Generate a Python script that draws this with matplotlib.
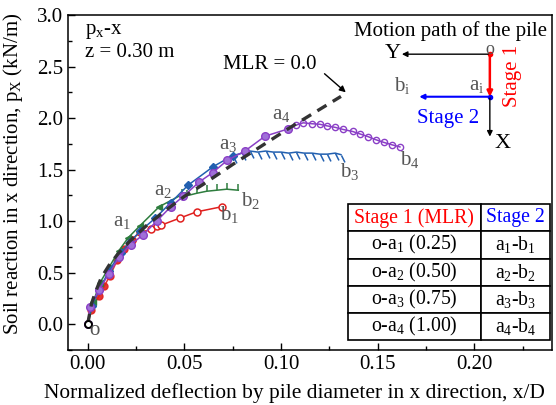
import matplotlib
matplotlib.use("Agg")
import matplotlib.pyplot as plt
from matplotlib.path import Path
from matplotlib.ticker import MultipleLocator

plt.rcParams["font.family"] = ["Liberation Serif", "DejaVu Serif"]
plt.rcParams["mathtext.fontset"] = "custom"
plt.rcParams["mathtext.rm"] = "Liberation Serif"
plt.rcParams["mathtext.it"] = "Liberation Serif:italic"

# MLR = 0.0 reference curve
mlr0_x = [0.0, 0.002, 0.004, 0.007, 0.011, 0.016, 0.022, 0.030, 0.040, 0.050,
          0.060, 0.075, 0.090, 0.104, 0.117, 0.131]
mlr0_y = [0.0, 0.20, 0.31, 0.45, 0.57, 0.69, 0.81, 0.95, 1.10, 1.24,
          1.36, 1.55, 1.73, 1.90, 2.05, 2.21]

# stage 1 (o -> a_i) and stage 2 (a_i -> b_i), four MLR cases
red_s1_x = [0.0, 0.0016, 0.0058, 0.0086, 0.0115, 0.0153, 0.0186, 0.0227]
red_s1_y = [0.0, 0.14, 0.27, 0.37, 0.47, 0.62, 0.73, 0.82]
red_s2_x = [0.0227, 0.027, 0.0327, 0.0357, 0.0379, 0.0477, 0.0563, 0.0694]
red_s2_y = [0.82, 0.89, 0.92, 0.955, 0.96, 1.03, 1.09, 1.14]

green_s1_x = [0.0, 0.003, 0.0063, 0.011, 0.016, 0.021, 0.027, 0.037, 0.0486]
green_s1_y = [0.0, 0.22, 0.40, 0.55, 0.71, 0.84, 0.955, 1.14, 1.256]
green_s2_x = [0.0486, 0.0512, 0.0563, 0.0615, 0.0667, 0.0719, 0.0779]
green_s2_y = [1.256, 1.246, 1.27, 1.29, 1.30, 1.31, 1.30]

blue_s1_x = [0.0, 0.002, 0.006, 0.011, 0.017, 0.022, 0.027, 0.035, 0.043,
             0.052, 0.065, 0.075]
blue_s1_y = [0.0, 0.18, 0.33, 0.52, 0.69, 0.80, 0.90, 1.03, 1.18,
             1.35, 1.53, 1.636]
blue_s2_x = [0.075, 0.080, 0.084, 0.088, 0.092, 0.096, 0.100, 0.104, 0.108,
             0.112, 0.116, 0.120, 0.124, 0.128, 0.131]
blue_s2_y = [1.636, 1.66, 1.68, 1.67, 1.68, 1.67, 1.67, 1.66, 1.67,
             1.66, 1.66, 1.65, 1.65, 1.66, 1.645]

purple_s1_x = [0.0, 0.0012, 0.0058, 0.011, 0.0162, 0.0222, 0.0288, 0.0357,
               0.043, 0.0494, 0.0577, 0.0646, 0.0722, 0.0813, 0.0917, 0.1037]
purple_s1_y = [0.0, 0.17, 0.33, 0.49, 0.65, 0.77, 0.87, 1.00,
               1.14, 1.24, 1.38, 1.47, 1.59, 1.68, 1.824, 1.895]
purple_s2_x = [0.1037, 0.1075, 0.1115, 0.1160, 0.1200, 0.1236, 0.1280,
               0.1320, 0.1370, 0.1410, 0.1450, 0.1490, 0.1530, 0.1575, 0.1615]
purple_s2_y = [1.895, 1.93, 1.954, 1.945, 1.94, 1.925, 1.91,
               1.89, 1.87, 1.845, 1.82, 1.79, 1.765, 1.74, 1.72]

point_labels = ["o", "a$_1$", "a$_2$", "a$_3$", "a$_4$", "b$_1$", "b$_2$", "b$_3$", "b$_4$"]
label_x = [0.0035, 0.0176, 0.039, 0.0727, 0.100, 0.0736, 0.084, 0.1356, 0.1667]
label_y = [-0.06, 1.00, 1.30, 1.74, 2.03, 1.06, 1.20, 1.48, 1.60]

table_rows = [["Stage 1 (MLR)", "Stage 2"],
              ["o-a$_1$ (0.25)", "a$_1$-b$_1$"],
              ["o-a$_2$ (0.50)", "a$_2$-b$_2$"],
              ["o-a$_3$ (0.75)", "a$_3$-b$_3$"],
              ["o-a$_4$ (1.00)", "a$_4$-b$_4$"]]

RED = "#e0201e"
GREEN = "#2e7d3e"
BLUE = "#2260b0"
PURPLE = "#8a3fc6"
GREY = "#555555"
FS = 15

hook = Path([(0, 0), (0, 1)], [Path.MOVETO, Path.LINETO])
spike = Path([(0, 0), (0.5, -1)], [Path.MOVETO, Path.LINETO])

fig = plt.figure(figsize=(5.56, 4.05), dpi=100)
ax = fig.add_axes([0.1229, 0.1358, 0.8694, 0.8272])

ax.plot(red_s2_x, red_s2_y, color=RED, lw=1.1, marker="o", ms=5,
        mfc="white", mec=RED, mew=1.1)
ax.plot(green_s2_x, green_s2_y, color=GREEN, lw=1.1, marker=hook, ms=9,
        mec=GREEN, mew=1.1)
ax.plot(blue_s2_x, blue_s2_y, color=BLUE, lw=1.1, marker=spike, ms=10,
        mec=BLUE, mew=1.1)
ax.plot(purple_s2_x, purple_s2_y, color=PURPLE, lw=1.1, marker="o", ms=4.5,
        mfc="none", mec=PURPLE, mew=1.0)

ax.plot(red_s1_x, red_s1_y, color=RED, lw=1.1, marker="o", ms=5, mfc=RED,
        mec=RED, alpha=0.9)
ax.plot(green_s1_x, green_s1_y, color=GREEN, lw=1.1, marker="<", ms=5,
        mfc=GREEN, mec=GREEN)
ax.plot(blue_s1_x, blue_s1_y, color=BLUE, lw=1.1, marker="D", ms=4.5,
        mfc=BLUE, mec=BLUE)
ax.plot(purple_s1_x, purple_s1_y, color=PURPLE, lw=1.1, marker="o", ms=5.5,
        mfc="#a070d8", mec=PURPLE)
ax.plot(mlr0_x, mlr0_y, color="#333333", lw=2.4, ls=(0, (3.2, 2.2)))
ax.plot([0.0], [0.0], marker="o", ms=5, mfc="white", mec="black", mew=1.4)

for txt, lx, ly in zip(point_labels, label_x, label_y):
    ax.text(lx, ly, txt, fontsize=FS, color=GREY, ha="center", va="center")

ax.text(0.035, 0.95, "p$_\\mathrm{x}$-x", transform=ax.transAxes,
        fontsize=FS, va="center")
ax.text(0.035, 0.888, "z = 0.30 m", transform=ax.transAxes,
        fontsize=FS, va="center")
ax.text(0.094, 2.52, "MLR = 0.0", fontsize=FS, ha="center", va="center")
ax.annotate("", xy=(0.1335, 2.25), xytext=(0.1225, 2.43),
            arrowprops=dict(arrowstyle="-|>", color="black", lw=1.0,
                            shrinkA=0, shrinkB=0, mutation_scale=9))

# motion path sketch (axes coordinates)
tr = ax.transAxes
ax.text(0.79, 0.952, "Motion path of the pile", transform=tr, fontsize=FS,
        ha="center", va="center")
ax.annotate("", xy=(0.690, 0.883), xytext=(0.872, 0.883), xycoords=tr,
            arrowprops=dict(arrowstyle="-|>", color="black", lw=1.0,
                            shrinkA=0, shrinkB=0, mutation_scale=8))
ax.annotate("", xy=(0.872, 0.637), xytext=(0.872, 0.756), xycoords=tr,
            arrowprops=dict(arrowstyle="-|>", color="black", lw=1.0,
                            shrinkA=0, shrinkB=0, mutation_scale=8))
ax.annotate("", xy=(0.872, 0.756), xytext=(0.872, 0.883), xycoords=tr,
            arrowprops=dict(arrowstyle="-|>", color="red", lw=1.8,
                            shrinkA=0, shrinkB=0, mutation_scale=8))
ax.annotate("", xy=(0.726, 0.756), xytext=(0.872, 0.756), xycoords=tr,
            arrowprops=dict(arrowstyle="-|>", color="blue", lw=1.5,
                            shrinkA=0, shrinkB=0, mutation_scale=7))
ax.plot([0.872], [0.883], "o", ms=3, color="red", transform=tr)
ax.plot([0.872], [0.756], "o", ms=3, color="blue", transform=tr)
ax.text(0.672, 0.884, "Y", transform=tr, fontsize=16, ha="center", va="center")
ax.text(0.899, 0.615, "X", transform=tr, fontsize=16, ha="center", va="center")
ax.text(0.872, 0.897, "o", transform=tr, fontsize=13, color=GREY,
        ha="center", va="center")
ax.text(0.690, 0.791, "b$_\\mathrm{i}$", transform=tr, fontsize=FS, color=GREY,
        ha="center", va="center")
ax.text(0.845, 0.791, "a$_\\mathrm{i}$", transform=tr, fontsize=FS, color=GREY,
        ha="center", va="center")
ax.text(0.918, 0.818, "Stage 1", transform=tr, fontsize=FS, color="red",
        rotation=90, ha="center", va="center")
ax.text(0.786, 0.692, "Stage 2", transform=tr, fontsize=FS, color="blue",
        ha="center", va="center")

tbl = ax.table(cellText=table_rows, cellLoc="center",
               colWidths=[0.656, 0.344], bbox=[0.579, 0.030, 0.4175, 0.405])
tbl.auto_set_font_size(False)
tbl.set_fontsize(14.2)
for (r, c), cell in tbl.get_celld().items():
    cell.set_linewidth(1.2)
    cell.set_facecolor("white")
    if r == 0:
        cell.get_text().set_color("red" if c == 0 else "blue")

ax.set_xlim(-0.01, 0.24)
ax.set_ylim(-0.25, 3.0)
ax.xaxis.set_major_locator(MultipleLocator(0.05))
ax.xaxis.set_minor_locator(MultipleLocator(0.025))
ax.yaxis.set_major_locator(MultipleLocator(0.5))
ax.yaxis.set_minor_locator(MultipleLocator(0.25))
ax.xaxis.set_major_formatter(plt.FormatStrFormatter("%.2f"))
ax.yaxis.set_major_formatter(plt.FormatStrFormatter("%.1f"))
ax.tick_params(which="both", direction="in", labelsize=FS, width=1.0)
ax.tick_params(which="major", length=5)
ax.tick_params(which="minor", length=3)
for s in ax.spines.values():
    s.set_linewidth(1.1)
ax.set_xlabel("Normalized deflection by pile diameter in x direction, x/D",
              fontsize=15.4)
ax.xaxis.set_label_coords(0.467, -0.1)
ax.set_ylabel("Soil reaction in x direction, p$_\\mathrm{X}$ (kN/m)",
              fontsize=FS)
ax.yaxis.set_label_coords(-0.09, 0.525)

fig.savefig("out.png", dpi=100)
